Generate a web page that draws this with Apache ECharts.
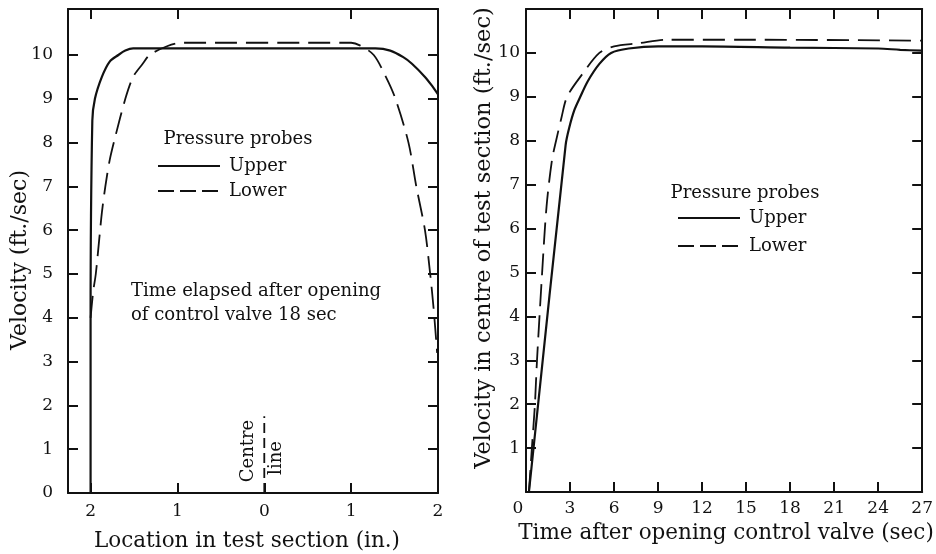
<!DOCTYPE html>
<html>
<head>
<meta charset="utf-8">
<script src="https://cdn.jsdelivr.net/npm/echarts@6/dist/echarts.min.js"></script>
<style>
html, body { margin: 0; padding: 0; background: #fff; }
#chart { width: 936px; height: 554px; }
</style>
</head>
<body>
<div id="chart"></div>
<script>
// left panel: velocity across the test section, 18 sec after opening
const profileTicks = [-2, -1, 0, 1, 2];
const upperProfileX = [-2.0, -2.0, -1.98, -1.95, -1.87, -1.78, -1.68, -1.6, -1.51, 1.28, 1.45, 1.6, 1.7, 1.85, 1.93, 2.0];
const upperProfileY = [0, 4.0, 8.5, 9.0, 9.5, 9.85, 10.0, 10.1, 10.15, 10.15, 10.1, 9.95, 9.8, 9.5, 9.3, 9.1];
const lowerProfileX = [-2.0, -1.97, -1.94, -1.9, -1.87, -1.83, -1.78, -1.72, -1.6, -1.51, -1.4, -1.32, -1.12, -0.95, 1.0, 1.1, 1.26, 1.4, 1.51, 1.66, 1.75, 1.85, 1.91, 1.95, 1.99];
const lowerProfileY = [4.0, 4.6, 5.0, 5.8, 6.4, 7.0, 7.6, 8.1, 9.0, 9.5, 9.8, 10.0, 10.2, 10.28, 10.28, 10.22, 10.0, 9.5, 9.0, 8.0, 7.0, 6.0, 5.0, 4.2, 3.2];
const centreLineX = [0, 0];
const centreLineY = [0, 1.75];

// right panel: velocity in centre of test section against time
const timeTicks = [0, 3, 6, 9, 12, 15, 18, 21, 24, 27];
const upperTimeX = [0.2, 2.7, 2.95, 3.3, 3.7, 4.2, 5.0, 5.8, 7.0, 9.0, 12, 18, 24, 25.5, 27];
const upperTimeY = [0, 7.9, 8.3, 8.7, 9.0, 9.35, 9.75, 10.0, 10.1, 10.15, 10.15, 10.12, 10.1, 10.07, 10.05];
const lowerTimeX = [0.2, 0.4, 0.6, 0.75, 1.1, 1.4, 1.77, 2.05, 2.4, 2.8, 3.8, 5.0, 6.0, 7.7, 9.5, 15, 27];
const lowerTimeY = [0, 1.0, 1.95, 3.0, 5.0, 6.5, 7.56, 8.0, 8.5, 9.0, 9.5, 10.0, 10.15, 10.22, 10.3, 10.3, 10.28];

const velocityTicks = [0, 1, 2, 3, 4, 5, 6, 7, 8, 9, 10];

const font = 'DejaVu Serif';
const ink = '#111';

function zip(xs, ys) {
    return xs.map((x, i) => [x, ys[i]]);
}

function axis(opts) {
    return Object.assign({
        type: 'value',
        splitLine: {show: false},
        axisLine: {onZero: false, lineStyle: {color: ink, width: 2}},
        axisTick: {inside: true, length: 10, lineStyle: {color: ink, width: 2}},
        axisLabel: {show: false, color: ink, fontFamily: font, fontSize: 17},
    }, opts);
}

function tickOpts(values) {
    return {inside: true, length: 10, customValues: values, lineStyle: {color: ink, width: 2}};
}

function labelOpts(values, margin, fmt, rich) {
    return {show: true, customValues: values, margin: margin, color: ink, fontFamily: font, fontSize: 17, formatter: fmt, rich: rich};
}

function line(name, data, xi, yi, dash) {
    return {
        name: name,
        type: 'line',
        data: data,
        xAxisIndex: xi,
        yAxisIndex: yi,
        symbol: 'none',
        smooth: 0.3,
        lineStyle: {color: ink, width: dash ? 1.8 : 2.2, type: dash || 'solid'},
        itemStyle: {color: ink},
        silent: true,
    };
}

function text(str, x, y, size, rotate, align) {
    return {
        type: 'text',
        x: x,
        y: y,
        rotation: rotate ? Math.PI / 2 : 0,
        style: {
            text: str,
            fill: ink,
            font: size + 'px "' + font + '"',
            align: align || 'center',
            verticalAlign: 'middle',
        },
    };
}

function legend(left, top, gap) {
    return {
        left: left, top: top, orient: 'vertical', padding: 0,
        itemWidth: 62, itemHeight: 14, itemGap: gap, selectedMode: false,
        itemStyle: {opacity: 0, borderWidth: 0},
        textStyle: {color: ink, fontFamily: font, fontSize: 18, padding: [0, 0, 0, 4]},
        data: [{name: 'Upper'}, {name: 'Lower', lineStyle: {type: [16, 6]}}],
    };
}

const chart = echarts.init(document.getElementById('chart'));

const option = {
    backgroundColor: '#fff',
    animation: false,
    grid: [
        {left: 68, top: 9, width: 370, height: 484},
        {left: 526, top: 9, width: 397, height: 483},
    ],
    xAxis: [
        axis({gridIndex: 0, min: -2.26, max: 2, position: 'bottom',
            axisTick: tickOpts([-2, -1, 0, 1]),
            axisLabel: labelOpts(profileTicks, 10, v => String(Math.abs(v)))}),
        axis({gridIndex: 0, min: -2.26, max: 2, position: 'top', axisTick: tickOpts([-2, -1, 1])}),
        axis({gridIndex: 1, min: 0, max: 27, position: 'bottom',
            axisTick: tickOpts([3, 6, 9, 12, 15, 18, 21, 24]),
            axisLabel: labelOpts(timeTicks, 8, v => v === 0 ? '{z|0}' : String(v),
                {z: {fontFamily: font, fontSize: 17, color: ink, padding: [0, 16, 0, 0]}})}),
        axis({gridIndex: 1, min: 0, max: 27, position: 'top', axisTick: tickOpts([3, 6, 9, 12, 15, 18, 21, 24])}),
    ],
    yAxis: [
        axis({gridIndex: 0, min: 0, max: 11.05, position: 'left',
            axisTick: tickOpts(velocityTicks.slice(1)),
            axisLabel: labelOpts(velocityTicks, 15)}),
        axis({gridIndex: 0, min: 0, max: 11.05, position: 'right', axisTick: tickOpts(velocityTicks.slice(1))}),
        axis({gridIndex: 1, min: 0, max: 11.0, position: 'left',
            axisTick: tickOpts(velocityTicks.slice(1)),
            axisLabel: labelOpts(velocityTicks.slice(1), 6)}),
        axis({gridIndex: 1, min: 0, max: 11.0, position: 'right', axisTick: tickOpts(velocityTicks.slice(1))}),
    ],
    legend: [
        legend(157, 157, 7),
        legend(677, 209, 10),
    ],
    series: [
        line('Upper', zip(upperProfileX, upperProfileY), 0, 0),
        line('Lower', zip(lowerProfileX, lowerProfileY), 0, 0, [22, 9]),
        Object.assign(line('Centre line', zip(centreLineX, centreLineY), 0, 0, [10, 5]), {smooth: false}),
        line('Upper', zip(upperTimeX, upperTimeY), 2, 2),
        line('Lower', zip(lowerTimeX, lowerTimeY), 2, 2, [22, 9]),
    ],
    graphic: [
        text('Velocity (ft./sec)', 20, 260, 22, true),
        text('Location in test section (in.)', 247, 541, 21.5),
        text('Velocity in centre of test section (ft./sec)', 484, 238, 22.5, true),
        text('Time after opening control valve (sec)', 726, 533, 21.5),
        text('Pressure probes', 238, 139, 18),
        text('Pressure probes', 745, 193, 18),
        text('Time elapsed after opening', 131, 291, 18, false, 'left'),
        text('of control valve 18 sec', 131, 315, 18, false, 'left'),
        text('Centre', 248, 451, 18, true),
        text('line', 276, 458, 18, true),
    ],
};

chart.setOption(option);
window.addEventListener('resize', () => chart.resize());
</script>
</body>
</html>
